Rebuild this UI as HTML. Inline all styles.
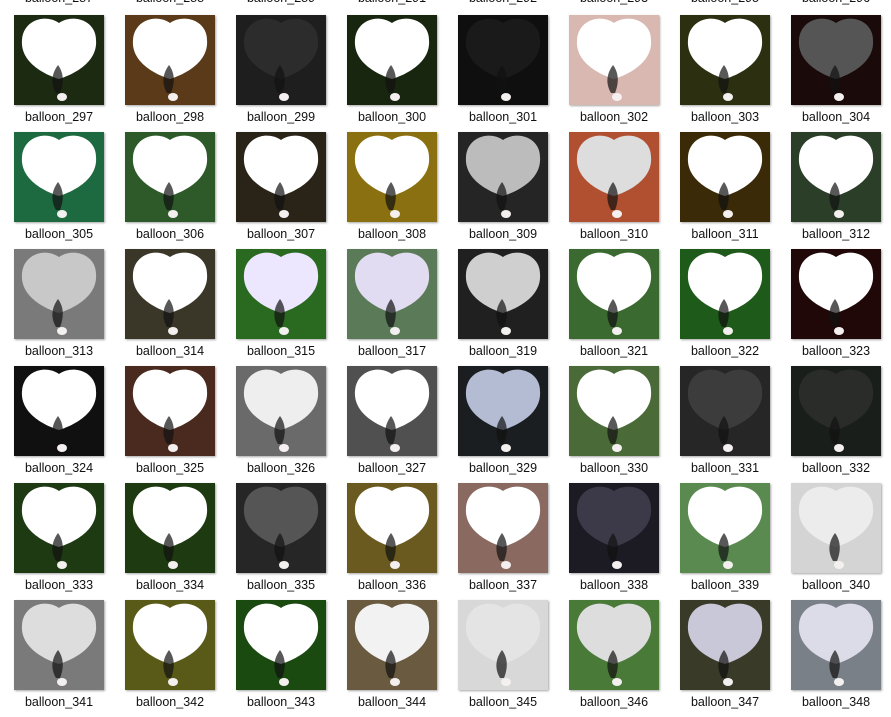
<!DOCTYPE html>
<html><head><meta charset="utf-8"><style>
body{margin:0;width:891px;height:711px;overflow:hidden;background:#fff;font-family:"Liberation Sans",sans-serif;position:relative}
.cell{position:absolute;width:111px;height:117px}
.thumb{position:absolute;left:14px;top:0;width:90px;height:90px;box-shadow:1px 1px 2px rgba(0,0,0,.35);overflow:hidden}
.lbl{position:absolute;left:0;width:118px;top:95px;text-align:center;font-size:12.5px;color:#111}
</style></head><body>
<div id="grid"></div>
<script>
const topNames=['287','288','289','291','292','293','295','296'];
const names=['297','298','299','300','301','302','303','304','305','306','307','308','309','310','311','312','313','314','315','317','319','321','322','323','324','325','326','327','329','330','331','332','333','334','335','336','337','338','339','340','341','342','343','344','345','346','347','348'];
const bgs=['#1c2a12','#5a3a18','#1e1e1e','#18260f','#0f0f0f','#d8b8b0','#2c3010','#1a0a0a','#1e6a40','#2e5a2a','#2a2418','#8a7010','#252525','#b05030','#3a2a08','#2a3e28','#7a7a7a','#3a3628','#2a6a20','#5a7a58','#202020','#3a6a30','#1e5a1a','#200808','#101010','#4a2a1e','#6a6a6a','#505050','#1a1e20','#4a6a38','#262626','#1a1e1a','#1e3a12','#1e3a10','#262626','#6a5a20','#8a6a60','#1c1a22','#5a8a50','#d4d4d4','#7a7a7a','#5a5a18','#1a4a10','#6a5a40','#d8d8d8','#4a7a38','#3a3a28','#7a8088'];
const balloons=['#fff','#fff','#2c2c2c','#fff','#1a1a1a','#fff','#fff','#555','#fff','#fff','#fff','#fff','#bcbcbc','#ddd','#fff','#fff','#c8c8c8','#fff','#ece6ff','#e2dcf2','#cfcfcf','#fff','#fff','#fff','#fff','#fff','#eee','#fff','#b4bcd4','#fff','#3c3c3c','#2a2c2a','#fff','#fff','#555','#fff','#fff','#3c3a48','#fff','#ececec','#ddd','#fff','#fff','#f2f2f2','#e4e4e4','#ddd','#c8c8d8','#dcdce8'];
const g=document.getElementById('grid');
function mk(n,col,top,withThumb,bg,bl){
  const c=document.createElement('div');c.className='cell';
  
  
  c.style.left=(col*111)+'px';c.style.top=top+'px';
  if(withThumb){
    const t=document.createElement('div');t.className='thumb';
    
    
    t.innerHTML='<svg width="90" height="90" viewBox="0 0 90 90"><rect width="90" height="90" fill="'+bg+'"/><path d="M45,64 C32,60 6,48 8,25 C9,6 30,-2 45,8 C60,-2 82,6 82,25 C84,48 58,60 45,64Z" fill="'+bl+'"/><path d="M42,78 C36,68 38,58 44,50 C50,58 50,68 46,78Z" fill="#111" opacity=".7"/><ellipse cx="48" cy="82" rx="5" ry="4" fill="#f4f0f0"/></svg>';
    c.appendChild(t);
  }
  const l=document.createElement('div');l.className='lbl';
  
  
  l.textContent='balloon_'+n;c.appendChild(l);
  g.appendChild(c);
}
topNames.forEach((n,i)=>mk(n,i,-104,false));
names.forEach((n,i)=>mk(n,i%8,15+Math.floor(i/8)*117,true,bgs[i],balloons[i]));
</script>
</body></html>
